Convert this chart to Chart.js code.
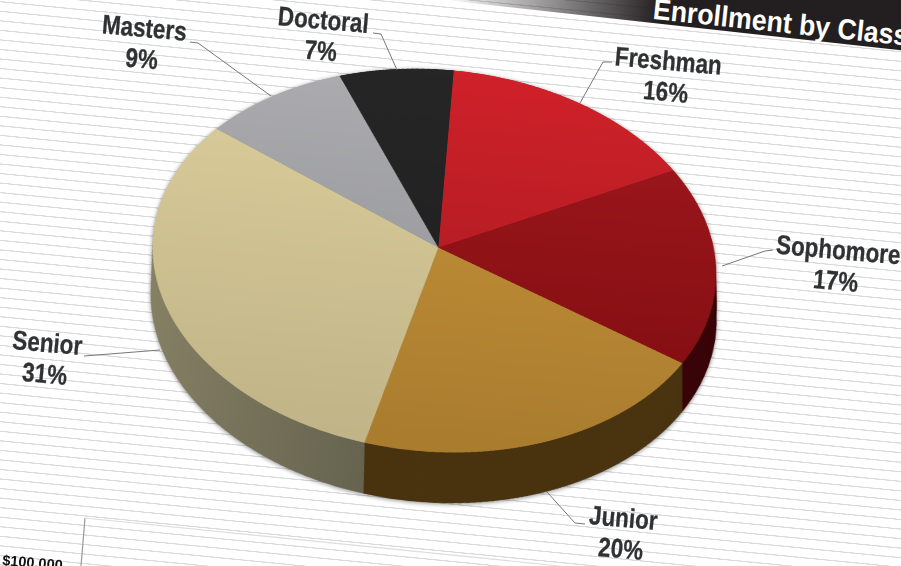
<!DOCTYPE html>
<html><head><meta charset="utf-8">
<style>
html,body{margin:0;padding:0;background:#fff;}
#page{position:relative;width:901px;height:566px;overflow:hidden;background:#fff;}
#stripes{position:absolute;left:-100px;top:-100px;width:1100px;height:770px;
 background:repeating-linear-gradient(5.6deg,#dadada 0,#dadada .8px,#fff 1.2px,#fff 9.1px,#dadada 9.5px);}
#pieWrap{position:absolute;left:0;top:0;width:901px;height:566px;filter:drop-shadow(0 1px 2px rgba(0,0,0,.45));}
#pie{position:absolute;left:0;top:0;transform-origin:0 0;}
.lbl{position:absolute;transform:translate(-50%,-50%) rotate(5deg) scaleX(.83);text-align:center;white-space:nowrap;
 font:bold 27px/31px "Liberation Sans",sans-serif;color:#2f3133;-webkit-text-stroke:.3px #2f3133;}
#banner{position:absolute;left:445px;top:0;width:600px;height:70px;transform-origin:0 0;transform:rotate(6.3deg) translateY(-70px);
 background:linear-gradient(90deg,rgba(35,31,32,0) 0,#231f20 215px);}
#title{position:absolute;left:655px;top:-8px;transform-origin:0 0;transform:rotate(6deg) scaleX(.92);white-space:nowrap;
 font:bold 29px/34px "Liberation Sans",sans-serif;color:#fff;}
#tick{position:absolute;left:3px;top:553px;transform-origin:0 0;transform:rotate(5deg);white-space:nowrap;
 font:bold 14.5px/15px "Liberation Sans",sans-serif;color:#111;}
svg{position:absolute;left:0;top:0;}
</style></head>
<body><div id="page">
<div id="stripes"></div>
<div id="banner"></div>
<div id="title"></div>
<div id="pieWrap"><canvas id="pie" width="860" height="860"></canvas></div>
<svg width="901" height="566" id="ov"></svg>
<div id="tick"></div>
</div>
<script src="https://cdn.jsdelivr.net/npm/chart.js@4"></script>
<script>
const titleText = "Enrollment by Class";
const categories = ["Freshman","Sophomore","Junior","Senior","Masters","Doctoral"];
const shares = [16,17,20,31,9,7];
const axisTick = "$100,000";
const topLight = ["#d0212a","#a3191e","#cb963c","#dfd09c","#adadb0","#262626"];
const topDark  = ["#a01a20","#7c0c10","#a97c2e","#c0b488","#8f9094","#1e1e1e"];
const sideColor= ["#3a0508","#3a0508","#4a3410","#77725a","#555555","#111111"];

const labelCentres = [[667,77],[837,266],[622,534],[46,359],[143,44],[322,36]];
const leaders = ["612,62 603,62 580,103","773,250 765,251 722,266","547,492 575,523 585,524","84,356 160,350","190,42 198,43 271,96","373,33 381,34 397,70"];
// where the slice boundaries land on the page (boundary index, x, y), and the pie's centre
const anchors = [[0,457,72],[1,675,170],[2,680,365],[3,367,445],[4,217,129],[5,336,77]];
const hub = [438,246];

document.getElementById('title').textContent = titleText;
document.getElementById('tick').textContent = axisTick;
const page = document.getElementById('page');
categories.forEach((c,i)=>{
  const d=document.createElement('div');d.className='lbl';
  d.style.left=labelCentres[i][0]+'px';d.style.top=labelCentres[i][1]+'px';
  d.innerHTML=c+'<br>'+shares[i]+'%';page.appendChild(d);
});
const ov=document.getElementById('ov');
let svg='';
leaders.forEach(p=>svg+=`<polyline points="${p}" fill="none" stroke="#777" stroke-width="1"/>`);
svg+='<polyline points="85,518 81,566" fill="none" stroke="#999" stroke-width="1.2"/>';
svg+='<polyline points="85,518 560,566" fill="none" stroke="#ddd" stroke-width="1.2"/>';
ov.innerHTML=svg;

const DEPTH=84, DX=4, SHRINK=4.5;
const sidePlugin={id:'side',beforeDatasetsDraw(chart){
  const c=chart.ctx, arcs=chart.getDatasetMeta(0).data;
  for(let k=DEPTH;k>=1;k--){
    arcs.forEach((a,i)=>{
      const ox=a.x+DX*k/DEPTH, oy=a.y+k, r=a.outerRadius-SHRINK*k/DEPTH;
      c.beginPath();c.moveTo(ox,oy);
      c.arc(ox,oy,r,a.startAngle,a.endAngle);c.closePath();
      let col=sideColor[i];
      if(i===3){const g=c.createLinearGradient(a.x-a.outerRadius,0,a.x,0);g.addColorStop(0,'#878165');g.addColorStop(1,'#5f5d4b');col=g;}
      c.fillStyle=col;c.fill();
    });
  }
}};
function grad(ctx){
  const ch=ctx.chart, i=ctx.dataIndex, area=ch.chartArea;
  if(!area) return topLight[i];
  const g=ch.ctx.createLinearGradient(0,area.top,0,area.bottom);
  g.addColorStop(0,topLight[i]);g.addColorStop(1,topDark[i]);return g;
}
const canvas=document.getElementById('pie');
const chart=new Chart(canvas,{
  type:'pie',
  data:{labels:categories,datasets:[{data:shares,backgroundColor:grad,borderWidth:0}]},
  options:{responsive:false,devicePixelRatio:2,animation:false,rotation:0,
    layout:{padding:80},plugins:{legend:{display:false},tooltip:{enabled:false}}},
  plugins:[sidePlugin]
});
// perspective view of the flat pie: least-squares homography through the anchors
function solve(A,b){const n=b.length;for(let i=0;i<n;i++){let p=i;for(let r=i+1;r<n;r++)if(Math.abs(A[r][i])>Math.abs(A[p][i]))p=r;
  [A[i],A[p]]=[A[p],A[i]];[b[i],b[p]]=[b[p],b[i]];
  for(let r=i+1;r<n;r++){const f=A[r][i]/A[i][i];for(let c=i;c<n;c++)A[r][c]-=f*A[i][c];b[r]-=f*b[i];}}
  const x=new Array(n);for(let i=n-1;i>=0;i--){let s=b[i];for(let c=i+1;c<n;c++)s-=A[i][c]*x[c];x[i]=s/A[i][i];}return x;}
const a0=chart.getDatasetMeta(0).data[0], total=shares.reduce((s,v)=>s+v,0);
const R=a0.outerRadius, rows=[], rhs=[];
function addPoint(nx,ny,u,v,w){
  rows.push([nx*w,ny*w,w,0,0,0,-u*nx*w,-u*ny*w]);rhs.push(u*w);
  rows.push([0,0,0,nx*w,ny*w,w,-v*nx*w,-v*ny*w]);rhs.push(v*w);
}
anchors.forEach(([k,u,v])=>{
  const f=shares.slice(0,k).reduce((s,w)=>s+w,0)/total*2*Math.PI;
  addPoint(Math.sin(f),-Math.cos(f),u,v,1);
});
addPoint(0,0,hub[0],hub[1],2);
const N=Array.from({length:8},()=>new Array(8).fill(0)), M=new Array(8).fill(0);
rows.forEach((r,ri)=>{for(let i=0;i<8;i++){M[i]+=r[i]*rhs[ri];for(let j=0;j<8;j++)N[i][j]+=r[i]*r[j];}});
const g=solve(N,M);
const S=[[1/R,0,-a0.x/R],[0,1/R,-a0.y/R],[0,0,1]];
const G=[[g[0],g[1],g[2]],[g[3],g[4],g[5]],[g[6],g[7],1]];
const H=G.map(row=>[0,1,2].map(c=>row[0]*S[0][c]+row[1]*S[1][c]+row[2]*S[2][c]));
canvas.style.transform=`matrix3d(${H[0][0]},${H[1][0]},0,${H[2][0]},${H[0][1]},${H[1][1]},0,${H[2][1]},0,0,1,0,${H[0][2]},${H[1][2]},0,${H[2][2]})`;
</script>
</body></html>
